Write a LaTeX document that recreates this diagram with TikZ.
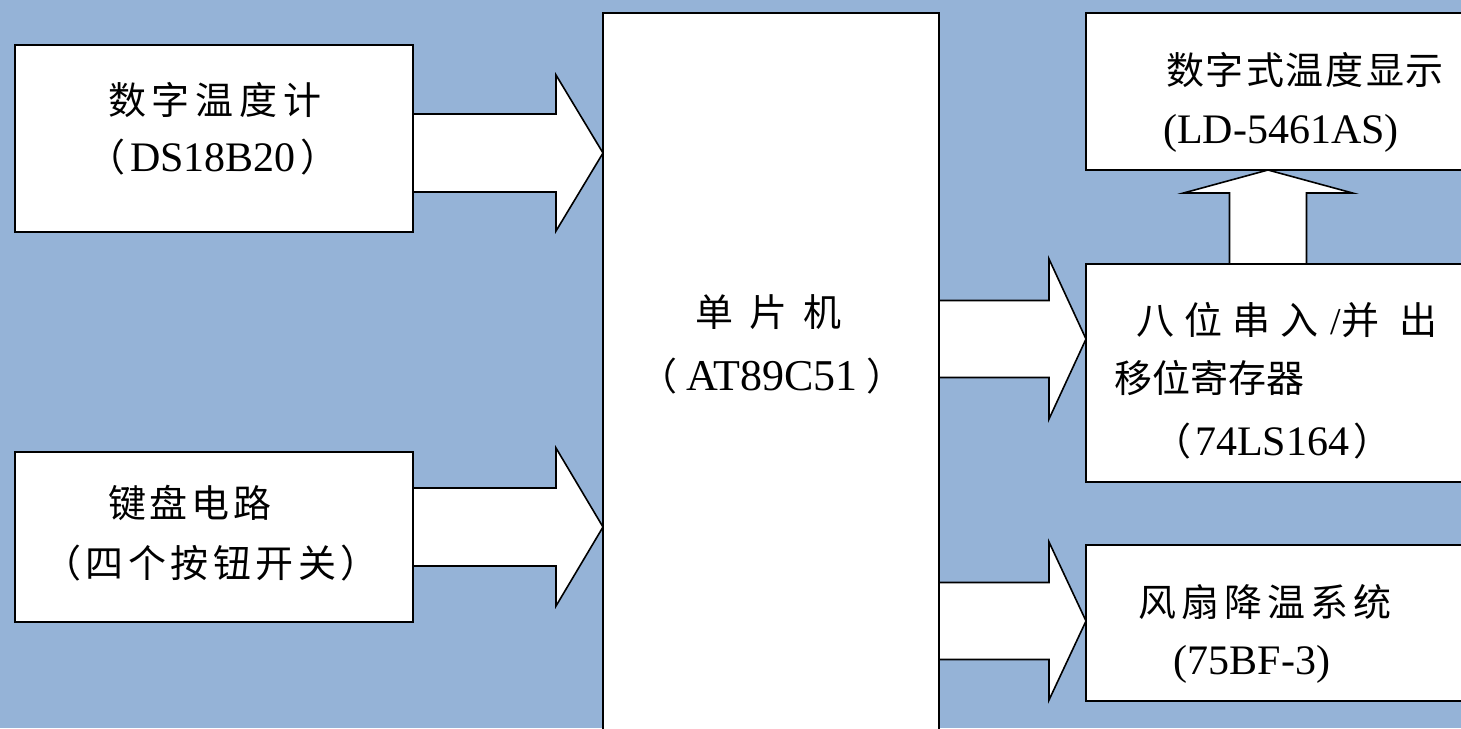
\documentclass[tikz,border=0pt]{standalone}
\usepackage{fontspec}
\setmainfont{Liberation Serif}
\newfontfamily\cjk{Noto Sans CJK SC}
\usetikzlibrary{calc}
\definecolor{bgblue}{RGB}{149,179,215}
\pgfdeclarelayer{back}
\pgfdeclarelayer{mid}
\pgfsetlayers{back,mid,main}
\makeatletter
\newcommand\spacedtxt[2]{\@tfor\sp@c:=#2\do{\sp@c\hspace{#1}}\unskip}
\makeatother
\newcommand\spacedcjk[2]{{\cjk\spacedtxt{#1}{#2}}}
\newcommand\lat[1]{{\fontsize{42}{46}\selectfont #1}}
% horizontal block arrow: start point, tip point, shaft half width, head half width, head length
\newcommand\rarrow[5]{\path[barrow] let \p1=#1, \p2=#2 in
  (\x1,\y2+#3) -- (\x2-#5,\y2+#3) -- (\x2-#5,\y2+#4) -- (\x2,\y2)
  -- (\x2-#5,\y2-#4) -- (\x2-#5,\y2-#3) -- (\x1,\y2-#3);}
% upward block arrow
\newcommand\uarrow[5]{\path[barrow] let \p1=#1, \p2=#2 in
  (\x2-#3,\y1) -- (\x2-#3,\y2-#5) -- (\x2-#4,\y2-#5) -- (\x2,\y2)
  -- (\x2+#4,\y2-#5) -- (\x2+#3,\y2-#5) -- (\x2+#3,\y1);}
\begin{document}
\begin{tikzpicture}[x=1pt,y=-1pt,
  box/.style={draw=black,line width=1.6pt,fill=white,inner sep=0pt,outer sep=0pt},
  barrow/.style={draw=black,line width=1.6pt,fill=white,line join=miter},
  lbl/.style={inner sep=0pt,font=\fontsize{38}{46}\selectfont}]
\useasboundingbox (0,0) rectangle (1461,728);
\begin{pgfonlayer}{back}
\fill[bgblue] (0,0) rectangle (1461,728);
\end{pgfonlayer}
% boxes
\node[box,minimum width=398pt,minimum height=187pt] (b1) at (214,138.5) {};
\node[box,minimum width=398pt,minimum height=170pt] (b2) at (214,537) {};
\node[box,minimum width=336pt,minimum height=732pt] (mcu) at (771,379) {};
\node[box,minimum width=389pt,minimum height=157pt] (disp) at (1280.5,91.5) {};
\node[box,minimum width=389pt,minimum height=218pt] (shift) at (1280.5,373) {};
\node[box,minimum width=389pt,minimum height=156pt] (fan) at (1280.5,623) {};
% block arrows
\begin{pgfonlayer}{mid}
\rarrow{(b1.east)}{($(mcu.north west)+(0,140)$)}{39pt}{78pt}{47pt}
\rarrow{(b2.east)}{($(mcu.north west)+(0,514)$)}{39pt}{79pt}{47pt}
\rarrow{(mcu.east)}{($(shift.north west)+(0,75)$)}{38.5pt}{80pt}{37pt}
\rarrow{(mcu.east)}{($(fan.north west)+(0,76)$)}{38.5pt}{79pt}{37pt}
\uarrow{(shift.north)}{($(disp.south west)+(182,0)$)}{38.5pt}{84.5pt}{23pt}
\end{pgfonlayer}
% texts
\node[lbl] (t1a) at (215,100) {\spacedcjk{6pt}{数字温度计}};
\node[lbl] (t1b) at (213,157) {{\cjk （}\hspace{5pt}\lat{DS18B20}\hspace{5pt}{\cjk ）}};
\node[lbl] (t2a) at (190,503) {\spacedcjk{4pt}{键盘电路}};
\node[lbl] (t2b) at (211,563) {\spacedcjk{4.5pt}{（四个按钮开关）}};
\node[lbl] (tma) at (768,312) {\spacedcjk{16pt}{单片机}};
\node[lbl] (tmb) at (772,376) {{\cjk （}\hspace{9pt}{\fontsize{44}{48}\selectfont AT89C51}\hspace{9pt}{\cjk ）}};
\node[lbl] (tda) at (1305,70) {\spacedcjk{2pt}{数字式温度显示}};
\node[lbl] (tdb) at (1281,133) {\lat{(LD-5461AS)}};
\node[lbl] (tsa) at (1287,320) {{\cjk 八\hspace{10pt}位\hspace{10pt}串\hspace{10pt}入\hspace{12pt}}/{\cjk 并\hspace{20pt}出}};
\node[lbl] (tsb) at (1209,378) {\spacedcjk{0pt}{移位寄存器}};
\node[lbl] (tsc) at (1272,441) {{\cjk （}\hspace{4pt}\lat{74LS164}\hspace{4pt}{\cjk ）}};
\node[lbl] (tfa) at (1265,602) {\spacedcjk{5pt}{风扇降温系统}};
\node[lbl] (tfb) at (1252,664) {\lat{(75BF-3)}};
\end{tikzpicture}
\end{document}
